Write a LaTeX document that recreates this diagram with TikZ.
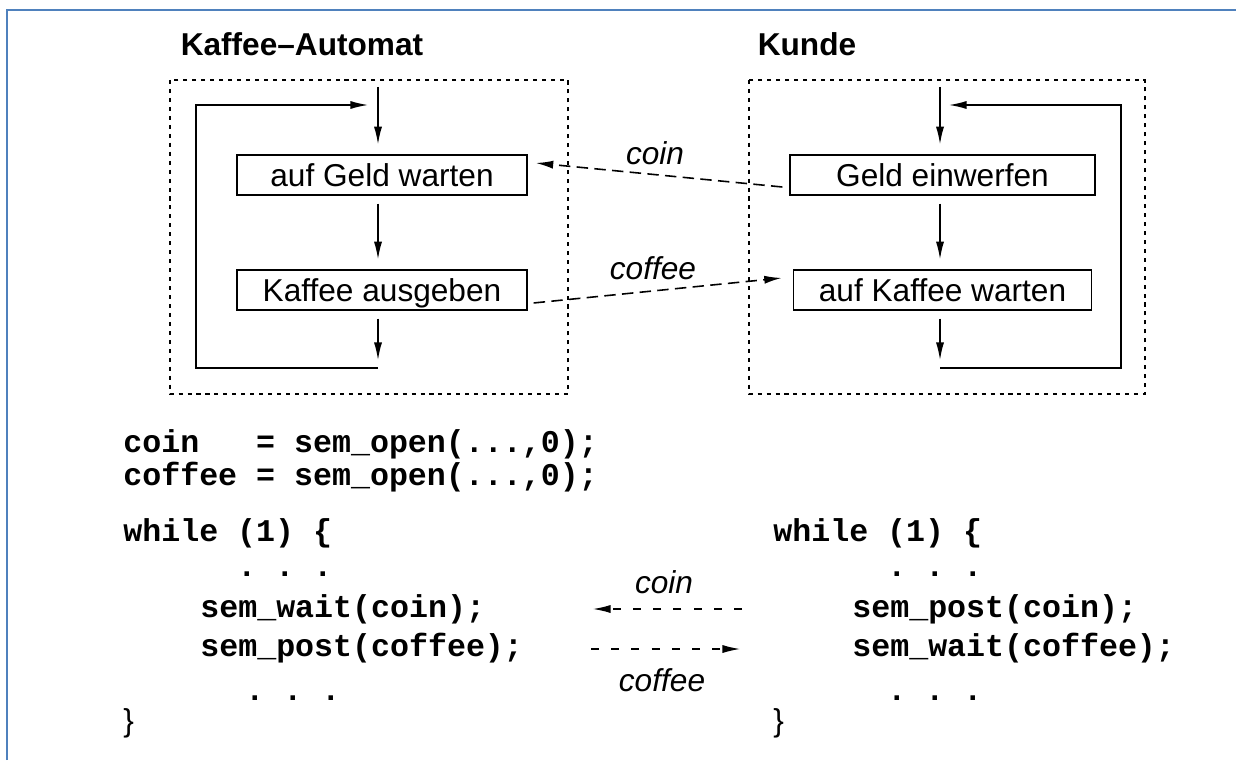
\documentclass[tikz,border=0pt]{standalone}
\usepackage{fontspec}
\setmainfont{Liberation Sans}
\setmonofont{Liberation Mono}
\usepackage{tikz}
\usetikzlibrary{positioning, arrows.meta}
\definecolor{slideblue}{HTML}{4F81BD}
\tikzset{
	>={Latex[length=10pt,width=4.6pt]}, % filled arrow heads everywhere
	title/.style={font=\fontsize{18}{22}\selectfont\bfseries, inner sep=0pt}, % the two headings
	activity/.style={draw, line width=0.8pt, minimum height=0.8cm, inner sep=0pt, text height=13pt, text depth=0pt, font=\fontsize{18}{22}\selectfont}, % one step of a process
	frame/.style={line width=0.7pt, dash pattern=on 2.3pt off 2.8pt}, % dotted border round a process
	flow/.style={->, line width=0.8pt, shorten >=5.7pt}, % control flow
	signal/.style={->, line width=0.9pt, dash pattern=on 6.5pt off 3.6pt}, % semaphore between boxes
	token/.style={->, line width=0.7pt, dash pattern=on 4.5pt off 7pt}, % semaphore between code
	msgtext/.style={font=\fontsize{18}{22}\selectfont\itshape, inner sep=0pt}, % name of a semaphore
	code/.style={font=\fontsize{18}{22}\selectfont\ttfamily\bfseries, anchor=base west, inner sep=0pt}, % program text
	brace/.style={font=\fontsize{18}{22}\selectfont, anchor=base west, inner sep=0pt}, % closing brace
}

\begin{document}
\begin{tikzpicture}[x=0.02cm, y=-0.02cm, node distance=2.3cm, on grid]
	\useasboundingbox (0,0) rectangle (1236,760);
	\draw[slideblue, line width=1.3pt] (7,760) -- (7,10) -- (1236,10);

	% Headings and frames
	\node[title] (tAuto) at (302,44) {Kaffee–Automat};
	\node[title] (tKunde) at (807,44) {Kunde};
	\draw[frame] (170,80) rectangle (568,394);
	\draw[frame] (749,80) rectangle (1145,394);

	% Steps
	\node[activity, minimum width=5.8cm] (wait) at (382,175) {auf Geld warten};
	\node[activity, minimum width=5.8cm, below=of wait] (serve) {Kaffee ausgeben};
	\node[activity, minimum width=6.1cm] (insert) at (942.5,175) {Geld einwerfen};
	\node[activity, minimum width=5.96cm, below=of insert] (expect) {auf Kaffee warten};

	% Loop points
	\coordinate (aIn) at (378,87);
	\coordinate (aOut) at (378,360);
	\coordinate (aBack) at (378,368);
	\coordinate (aTurn) at (196,368);
	\coordinate (aEntry) at (368,105);
	\coordinate (kIn) at (940,87);
	\coordinate (kOut) at (940,360);
	\coordinate (kBack) at (940,368);
	\coordinate (kTurn) at (1121,368);
	\coordinate (kEntry) at (949,105);

	% Control flow
	\draw[flow] (aIn) -- (wait.north -| aIn);
	\draw[flow, shorten <=4.5pt] (wait.south -| aIn) -- (serve.north -| aIn);
	\draw[flow, shorten <=4.5pt, shorten >=0pt] (serve.south -| aIn) -- (aOut);
	\draw[flow, shorten >=0pt] (aBack) -- (aTurn) |- (aEntry);
	\draw[flow] (kIn) -- (insert.north -| kIn);
	\draw[flow, shorten <=4.5pt] (insert.south -| kIn) -- (expect.north -| kIn);
	\draw[flow, shorten <=4.5pt, shorten >=0pt] (expect.south -| kIn) -- (kOut);
	\draw[flow, shorten >=0pt] (kBack) -- (kTurn) |- (kEntry);

	% Semaphores
	\draw[signal] ([shift={(-7,12)}]insert.west) -- ([shift={(8,-12)}]wait.east);
	\draw[signal] ([shift={(6,13)}]serve.east) -- ([shift={(-11,-12)}]expect.west);
	\node[msgtext] (mCoin) at (655,153) {coin};
	\node[msgtext] (mCoffee) at (653,268) {coffee};

	% Program, left
	\node[code] (lCoin) at (123,452) {coin\ \ \ = sem\_open(...,0);};
	\node[code] (lCoffee) at (123,485) {coffee = sem\_open(...,0);};
	\node[code] (lWhile) at (123,541.5) {while (1) \{};
	\node[code] (lDots) at (237,576) {. . .};
	\node[code] (lWait) at (200,617) {sem\_wait(coin);};
	\node[code] (lPost) at (200,656.5) {sem\_post(coffee);};
	\node[code] (lDotsB) at (245,700) {. . .};
	\node[brace] (lEnd) at (123,731) {\}};

	% Program, right
	\node[code] (rWhile) at (773,541.5) {while (1) \{};
	\node[code] (rDots) at (887,576) {. . .};
	\node[code] (rPost) at (852,617) {sem\_post(coin);};
	\node[code] (rWait) at (852,656.5) {sem\_wait(coffee);};
	\node[code] (rDotsB) at (887,700) {. . .};
	\node[brace] (rEnd) at (773,731) {\}};

	% Semaphores between programs
	\coordinate (cTail) at (742,609);
	\coordinate (cHead) at (593,609);
	\coordinate (fTail) at (591,649);
	\coordinate (fHead) at (740,649);
	\draw[token] (cTail) -- (cHead);
	\draw[token] (fTail) -- (fHead);
	\node[msgtext] (tCoin) at (664,582) {coin};
	\node[msgtext] (tCoffee) at (662,680) {coffee};
\end{tikzpicture}
\end{document}
